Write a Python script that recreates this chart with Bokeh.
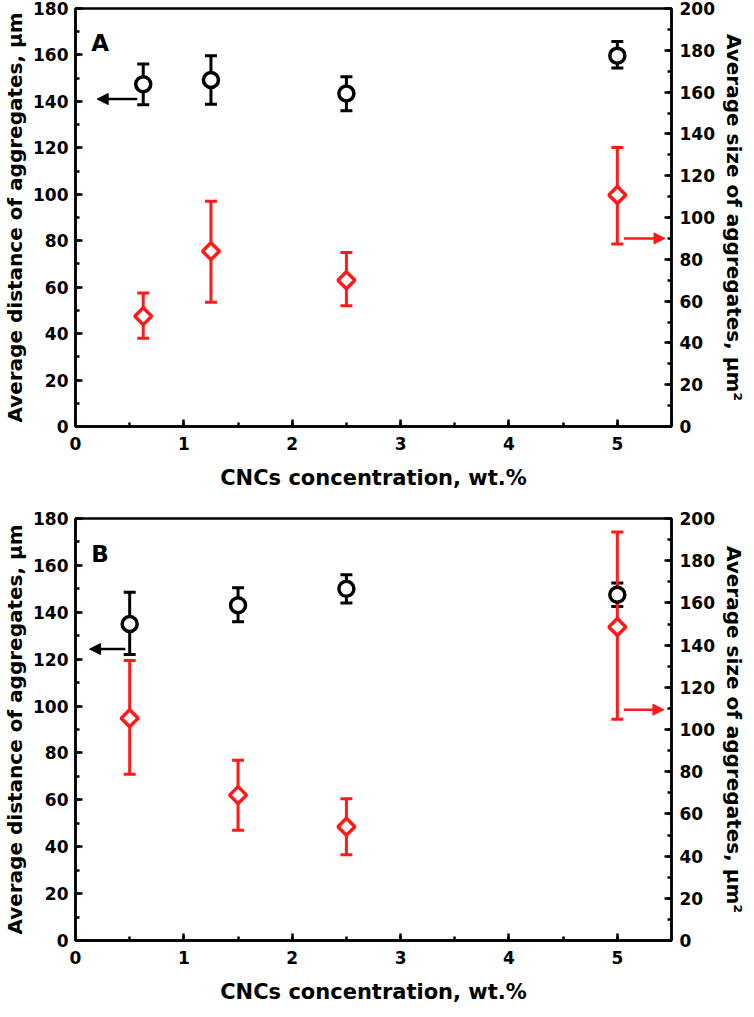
import math
from bokeh.plotting import figure
from bokeh.layouts import column
from bokeh.models import (Range1d, LinearAxis, SingleIntervalTicker, Whisker, TeeHead,
                          ColumnDataSource, Arrow, NormalHead, Label)
from bokeh.embed import file_html
from bokeh.resources import INLINE

# ---------------- data ----------------
# Panel A
xA = [0.625, 1.25, 2.5, 5.0]
distA = [147.4, 149.2, 143.4, 159.7]
distA_lo = [138.5, 138.8, 136.0, 154.4]
distA_hi = [156.1, 159.7, 150.6, 165.8]
sizeA = [52.8, 83.9, 70.0, 110.8]
sizeA_lo = [42.2, 59.4, 57.8, 87.3]
sizeA_hi = [63.9, 107.8, 83.3, 133.5]

# Panel B
xB = [0.5, 1.5, 2.5, 5.0]
distB = [135.0, 143.0, 150.0, 147.5]
distB_lo = [122.0, 136.0, 144.0, 142.5]
distB_hi = [148.5, 150.5, 156.0, 152.5]
sizeB = [105.3, 68.9, 53.9, 148.6]
sizeB_lo = [78.8, 52.2, 40.6, 104.8]
sizeB_hi = [132.7, 85.4, 67.2, 193.6]

x_title = "CNCs concentration, wt.%"
yl_title = "Average distance of aggregates, \u03bcm"
yr_title = "Average size of aggregates, \u03bcm\u00b2"

FONT = "DejaVu Sans"
RED = "#ff1a1a"


def make_panel(letter, xs, d, dlo, dhi, s, slo, shi, arrowL, arrowR, top, bottom, fh):
    p = figure(frame_width=596, frame_height=fh, x_range=Range1d(0, 5.5),
               y_range=Range1d(0, 180), output_backend="svg", toolbar_location=None,
               min_border_left=69, min_border_right=70, min_border_top=top,
               min_border_bottom=bottom, x_axis_location="below")
    p.extra_y_ranges = {"right": Range1d(0, 200)}
    p.grid.visible = False
    p.outline_line_color = "black"
    p.outline_line_width = 2.5
    p.outline_line_alpha = 1.0

    ax_r = LinearAxis(y_range_name="right")
    p.add_layout(ax_r, "right")

    p.xaxis.ticker = SingleIntervalTicker(interval=1, num_minor_ticks=2)
    p.yaxis[0].ticker = SingleIntervalTicker(interval=20, num_minor_ticks=2)
    ax_r.ticker = SingleIntervalTicker(interval=20, num_minor_ticks=2)

    for ax in [p.xaxis[0], p.yaxis[0], ax_r]:
        ax.axis_line_width = 2.5
        ax.axis_line_color = "black"
        ax.major_tick_in = 7
        ax.major_tick_out = 0
        ax.minor_tick_in = 4
        ax.minor_tick_out = 0
        ax.major_tick_line_width = 2.5
        ax.minor_tick_line_width = 2.5
        ax.major_label_text_font = FONT
        ax.major_label_text_font_style = "bold"
        ax.major_label_text_font_size = "17px"
        ax.major_label_text_color = "black"
        ax.axis_label_text_font = FONT
        ax.axis_label_text_font_style = "bold"
        ax.axis_label_text_font_size = "20px"
        ax.axis_label_text_color = "black"

    p.xaxis[0].axis_label = x_title
    p.xaxis[0].axis_label_text_font_size = "21px"
    p.xaxis[0].major_label_standoff = 10
    p.xaxis[0].axis_label_standoff = 13
    p.yaxis[0].axis_label = yl_title
    p.yaxis[0].major_label_standoff = 7
    p.yaxis[0].axis_label_standoff = 3
    ax_r.axis_label = yr_title
    ax_r.major_label_standoff = 8
    ax_r.axis_label_standoff = 4

    # error bars
    srcD = ColumnDataSource(dict(x=xs, y=d, lo=dlo, hi=dhi))
    srcS = ColumnDataSource(dict(x=xs, y=s, lo=slo, hi=shi))
    wD = Whisker(base="x", lower="lo", upper="hi", source=srcD, line_color="black",
                 line_width=3, level="underlay",
                 upper_head=TeeHead(size=12, line_width=3, line_color="black"),
                 lower_head=TeeHead(size=12, line_width=3, line_color="black"))
    wS = Whisker(base="x", lower="lo", upper="hi", source=srcS, line_color=RED,
                 line_width=3, level="underlay", y_range_name="right",
                 upper_head=TeeHead(size=12, line_width=3, line_color=RED),
                 lower_head=TeeHead(size=12, line_width=3, line_color=RED))
    p.add_layout(wD)
    p.add_layout(wS)

    p.scatter("x", "y", source=srcD, marker="circle", size=15, fill_color="white",
              line_color="black", line_width=3.5)
    p.scatter("x", "y", source=srcS, marker="square", angle=math.pi / 4, size=12,
              fill_color="white", line_color=RED, line_width=3.5, y_range_name="right")

    # arrows
    p.add_layout(Arrow(x_start=arrowL[1], x_end=arrowL[0], y_start=arrowL[2], y_end=arrowL[2],
                       line_color="black", line_width=2.5,
                       end=NormalHead(size=11, fill_color="black", line_color="black", line_width=1)))
    p.add_layout(Arrow(x_start=arrowR[0], x_end=arrowR[1], y_start=arrowR[2], y_end=arrowR[2],
                       line_color=RED, line_width=2.5, y_range_name="right",
                       end=NormalHead(size=11, fill_color=RED, line_color=RED, line_width=1)))

    p.add_layout(Label(x=0.145, y=165, text=letter, text_font=FONT, text_font_style="bold",
                       text_font_size="23px", text_color="black", text_baseline="alphabetic"))
    return p


pA = make_panel("A", xA, distA, distA_lo, distA_hi, sizeA, sizeA_lo, sizeA_hi,
                (0.2, 0.57, 141), (5.06, 5.44, 90), top=8, bottom=82, fh=418)
pB = make_panel("B", xB, distB, distB_lo, distB_hi, sizeB, sizeB_lo, sizeB_hi,
                (0.13, 0.46, 124.3), (5.06, 5.43, 109.4), top=10, bottom=59, fh=422)

layout = column(pA, pB, spacing=0)
open("out.html", "w").write(file_html(layout, INLINE))
